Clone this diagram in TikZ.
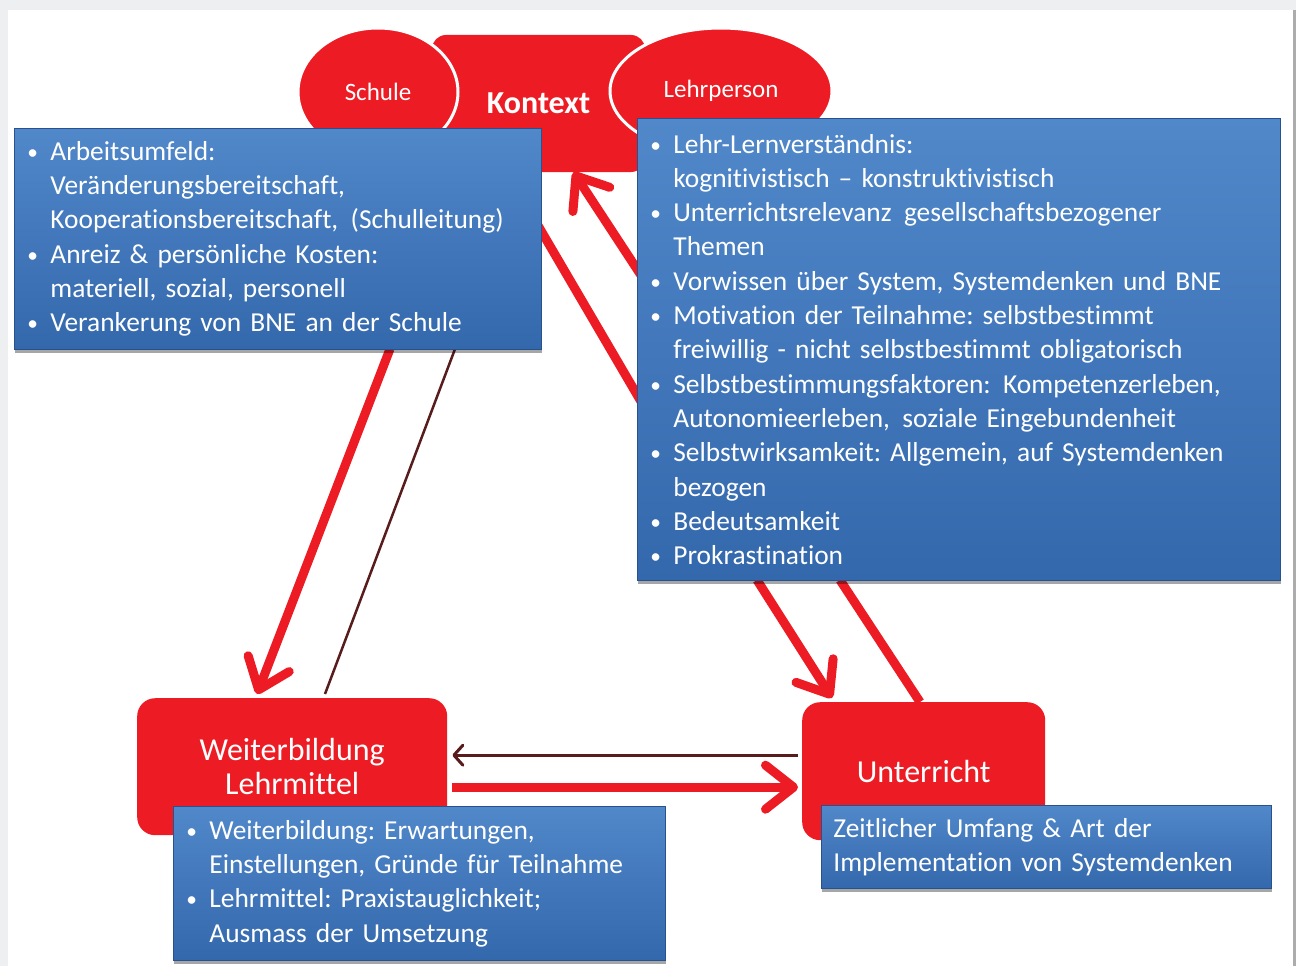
\documentclass[tikz,border=0pt]{standalone}
\usepackage{fontspec}
\usepackage{graphicx}
\setmainfont{Carlito}[RawFeature={-liga}]
\usetikzlibrary{arrows.meta,shadows,shapes.geometric}

\definecolor{pptred}{RGB}{237,28,36}
\definecolor{boxtop}{RGB}{80,136,202}
\definecolor{boxbot}{RGB}{52,104,172}
\definecolor{boxedge}{RGB}{40,82,142}
\definecolor{linkbrown}{RGB}{88,28,28}
\definecolor{framegray}{RGB}{238,239,241}

\newcommand{\bul}{\makebox[24pt][l]{\hspace*{1pt}\raisebox{1pt}{\scalebox{0.78}{\textbullet}}}}
\newcommand{\cont}{\hspace*{24pt}}
\newcommand{\wsp}{\ \hspace{0.12em}}
\frenchspacing

\begin{document}
\begin{tikzpicture}[x=1pt,y=-1pt,
  redshape/.style={fill=pptred, draw=none, text=white},
  bubble/.style={ellipse, fill=pptred, draw=white, line width=3pt, text=white,
    inner sep=0pt, font=\fontsize{25}{27}\selectfont},
  bluebox/.style={top color=boxtop, bottom color=boxbot, draw=boxedge,
    line width=0.8pt, text=white, anchor=north west, inner xsep=12pt,
    inner ysep=0pt, align=left, font=\fontsize{27.4}{34.3}\selectfont,
    drop shadow={shadow xshift=1pt, shadow yshift=-4pt, opacity=0.35, fill=black}},
  thickarrow/.style={draw=pptred, line width=9pt,
    -{Straight Barb[length=28pt, width=44pt, round]}},
  thickline/.style={draw=pptred, line width=9pt},
  thinarrow/.style={draw=linkbrown, line width=3pt,
    -{Straight Barb[length=9pt, width=20pt, round]}},
  thinline/.style={draw=linkbrown, line width=2.5pt},
]
\useasboundingbox (0,0) rectangle (1296,966);

% page frame
\fill[framegray] (0,0) rectangle (1296,966);
\fill[gray!65] (1292,10) rectangle (1296,966);
\fill[white] (8,10) rectangle (1293,966);

% context cluster
\node[redshape, rounded corners=14pt, minimum width=213pt, minimum height=137pt,
  font=\fontsize{32}{34}\selectfont\bfseries] (ctx) at (538.5,103.5) {Kontext};
\node[bubble, minimum width=160pt, minimum height=128pt] (schule) at (378,92) {Schule};
\node[bubble, minimum width=222pt, minimum height=126pt] (lehr) at (721,91) {Lehrperson};

% lower red boxes
\node[redshape, rounded corners=18pt, minimum width=310pt, minimum height=137pt,
  anchor=north west, align=center, font=\fontsize{32}{34.5}\selectfont]
  (wb) at (137,698) {Weiterbildung\\Lehrmittel};
\node[redshape, rounded corners=18pt, minimum width=243pt, minimum height=138pt,
  anchor=north west, font=\fontsize{32}{34}\selectfont]
  (ut) at (802,702) {Unterricht};

% anchors on the box edges (boxes are placed afterwards, so they lie on top)
\coordinate (lboxSW) at (14,349);
\coordinate (rboxSW) at (637,580);
\coordinate (rboxW) at (637,349);

% connectors
\draw[thickarrow] ([xshift=376pt]lboxSW) -- ([xshift=120pt,yshift=4pt]wb.north west);
\draw[thinline] ([xshift=441pt]lboxSW) -- ([xshift=188pt,yshift=4pt]wb.north west);
\draw[thickarrow] ([xshift=13pt,yshift=60pt]rboxW) -- ([xshift=35pt]ctx.south);
\draw[thickline] ([xshift=75pt]ctx.south west) -- ([xshift=23pt,yshift=-85pt]rboxW);
\draw[thickarrow] ([xshift=120pt]rboxSW) -- ([xshift=30pt,yshift=4pt]ut.north west);
\draw[thickline] ([xshift=203pt]rboxSW) -- ([xshift=118pt]ut.north west);
\draw[thinarrow] ([xshift=-4pt,yshift=16pt]ut.west) -- ([xshift=5pt,yshift=11.5pt]wb.east);
\draw[thickarrow] ([xshift=5pt,yshift=-20.5pt]wb.east) -- ([xshift=-4pt,yshift=-16pt]ut.west);

% text boxes
\node[bluebox, minimum width=527pt, minimum height=221pt, text width=503pt]
  (lbox) at (14,128) {%
  \bul Arbeitsumfeld:\\
  \cont Veränderungsbereitschaft,\\
  \cont Kooperationsbereitschaft,\wsp(Schulleitung)\\
  \bul Anreiz \& persönliche Kosten:\\
  \cont materiell, sozial, personell\\
  \bul Verankerung von BNE an der Schule};

\node[bluebox, minimum width=643pt, minimum height=462pt, text width=619pt]
  (rbox) at (637,118) {%
  \bul Lehr-Lernverständnis:\\
  \cont kognitivistisch -- konstruktivistisch\\
  \bul Unterrichtsrelevanz\wsp gesellschaftsbezogener\\
  \cont Themen\\
  \bul Vorwissen über System, Systemdenken und BNE\\
  \bul Motivation der Teilnahme: selbstbestimmt\\
  \cont freiwillig - nicht selbstbestimmt obligatorisch\\
  \bul Selbstbestimmungsfaktoren:\wsp Kompetenzerleben,\\
  \cont Autonomieerleben,\wsp soziale Eingebundenheit\\
  \bul Selbstwirksamkeit: Allgemein, auf Systemdenken\\
  \cont bezogen\\
  \bul Bedeutsamkeit\\
  \bul Prokrastination};

\node[bluebox, minimum width=492pt, minimum height=154pt, text width=468pt]
  (wbox) at (173,806) {%
  \bul Weiterbildung: Erwartungen,\\
  \cont Einstellungen, Gründe für Teilnahme\\
  \bul Lehrmittel: Praxistauglichkeit;\\
  \cont Ausmass der Umsetzung};

\node[bluebox, minimum width=450pt, minimum height=83pt, text width=426pt]
  (ubox) at (821,805) {%
  Zeitlicher Umfang \& Art der\\
  Implementation von Systemdenken};
\end{tikzpicture}
\end{document}
